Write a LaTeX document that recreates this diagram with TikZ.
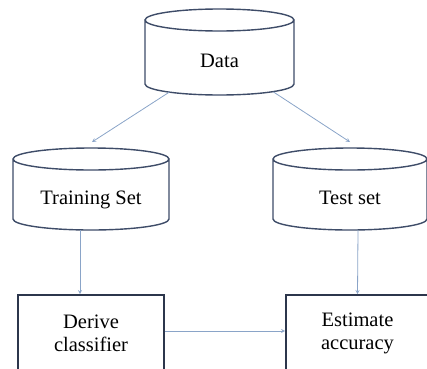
\documentclass[tikz,border=0pt]{standalone}
\usepackage{fontspec}
\setmainfont{Liberation Serif}
\usetikzlibrary{shapes.geometric, arrows, positioning}
\definecolor{cylblue}{RGB}{62,76,104}
\definecolor{boxblue}{RGB}{44,54,76}
\definecolor{connblue}{RGB}{138,164,200}
% drum: name, centre, width, height, label
\newcommand{\drum}[5]{%
	\node (#1) [Drum, minimum width=#3, minimum height=#4] at (#2) {#5};
	\draw [drumline] ([yshift=-11pt]#1.north west) -- ([yshift=11pt]#1.south west)
		arc [start angle=180, end angle=360, x radius=#3/2, y radius=11pt]
		-- ([yshift=-11pt]#1.north east)
		([yshift=-11pt]#1.north) ellipse [x radius=#3/2, y radius=11pt];
}
\begin{document}
\begin{tikzpicture}[x=1pt, y=1pt]
		\tikzstyle{Drum} = [rectangle, outer sep=0pt, font=\fontsize{20.5}{23}\selectfont, text height=30pt, text depth=0pt]
		\tikzstyle{drumline} = [draw=cylblue, line width=1.4pt]
		\tikzstyle{Step} = [rectangle, draw=boxblue, line width=1.8pt, text centered, align=center, font=\fontsize{20.5}{23}\selectfont]
		\tikzstyle{arrow} = [line width=0.8pt, draw=connblue, ->, >=stealth]
		
		\useasboundingbox (0,0) rectangle (427,368);
		
		\drum{data}{219.5,316}{149pt}{86pt}{Data}
		\drum{train}{91,179}{156pt}{82pt}{Training Set}
		\drum{test}{350,179}{154pt}{82pt}{Test set}
		
		\node (derive) [Step, minimum width=146pt, minimum height=77pt] at (91,34.5) {Derive\\classifier};
		\node (estimate) [Step, minimum width=143pt, minimum height=77pt] at (357.5,34.5) {Estimate\\accuracy};
		
		\draw [arrow] ([xshift=-50pt, yshift=3pt]data.south) -- ([xshift=1pt, yshift=6pt]train.north);
		\draw [arrow] ([xshift=54pt, yshift=3pt]data.south) -- ([yshift=6pt]test.north);
		\draw [arrow] ([xshift=-11pt]train.south) -- ([xshift=-11pt]derive.north);
		\draw [arrow] ([xshift=8pt]test.south) -- (estimate.north);
		\draw [arrow] ([yshift=2.5pt]derive.east) -- ([yshift=2.5pt]estimate.west);
\end{tikzpicture}
\end{document}
